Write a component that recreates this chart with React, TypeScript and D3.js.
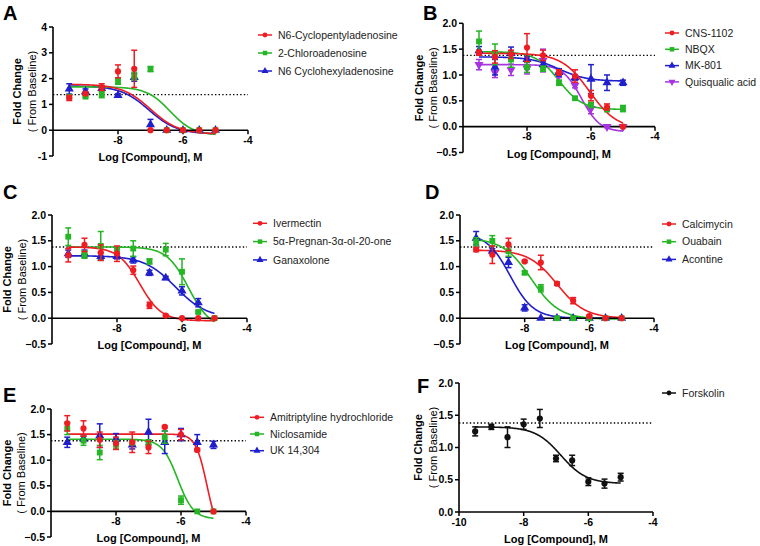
import React from 'react'
import * as d3 from 'd3'

// log molar concentrations used in every panel
const logDoses = [-9.5, -9, -8.5, -8, -7.5, -7, -6.5, -6, -5.5, -5]
const baseline = 1.38

// fits are [top, bottom, logIC50, hillSlope]

// A
const cpaMean = [1.25, 1.42, 1.67, 2.28, 2.38, 0, 0, 0, 0, 0]
const cpaSem = [0.1, 0.05, 0.13, 0.25, 0.72, 0, 0, 0, 0, 0]
const cpaFit = [1.78, -0.15, -7.0, 1.0]
const caMean = [1.3, 1.3, 1.38, 1.9, 2.1, 2.37, 0, 0, 0, 0]
const caSem = [0.05, 0.03, 0.12, 0.12, 0.15, 0.1, 0, 0, 0, 0]
const caFit = [1.68, -0.2, -6.4, 1.2]
const chaMean = [1.6, 1.5, 1.62, 1.35, 2.05, 0.22, 0, 0, 0, 0]
const chaSem = [0.2, 0.1, 0.08, 0.06, 0.15, 0.2, 0, 0, 0, 0]
const chaFit = [1.72, -0.15, -7.05, 1.0]

// B
const cnsMean = [1.43, 1.35, 1.4, 1.53, 1.38, 1.05, 0.98, 0.6, 0.38, 0.0]
const cnsSem = [0.05, 0.12, 0.08, 0.27, 0.1, 0.05, 0.12, 0.1, 0.06, 0.02]
const cnsFit = [1.42, -0.05, -6.05, 1.0]
const nbqxMean = [1.65, 1.4, 1.3, 1.15, 1.12, 0.85, 0.55, 0.42, 0.33, 0.35]
const nbqxSem = [0.2, 0.2, 0.15, 0.1, 0.05, 0.05, 0.03, 0.05, 0.03, 0.06]
const nbqxFit = [1.45, 0.33, -7.0, 1.2]
const mkMean = [1.47, 1.15, 1.42, 1.3, 1.2, 1.05, 0.95, 0.92, 0.85, 0.85]
const mkSem = [0.08, 0.15, 0.12, 0.05, 0.05, 0.07, 0.05, 0.28, 0.15, 0.05]
const mkFit = [1.35, 0.88, -7.0, 1.0]
const quisMean = [1.2, 1.05, 1.1, 1.13, 1.28, 1.0, 0.8, 0.35, 0.0, 0.0]
const quisSem = [0.1, 0.1, 0.11, 0.11, 0.22, 0.05, 0.05, 0.1, 0.02, 0.0]
const quisFit = [1.2, -0.1, -6.3, 1.5]

// C
const ivMean = [1.22, 1.42, 1.27, 1.25, 0.93, 0.25, 0.05, 0.0, 0.0, 0.0]
const ivSem = [0.13, 0.13, 0.15, 0.15, 0.08, 0.06, 0.02, 0.01, 0.01, 0.01]
const ivFit = [1.38, -0.05, -7.3, 1.3]
const pregMean = [1.58, 1.23, 1.4, 1.3, 1.35, 1.1, 1.33, 0.9, 0.12, 0.0]
const pregSem = [0.17, 0.07, 0.28, 0.05, 0.15, 0.05, 0.12, 0.25, 0.02, 0.02]
const pregFit = [1.38, -0.2, -5.8, 1.3]
const ganMean = [1.25, 1.25, 1.2, 1.2, 1.13, 0.88, 0.78, 0.53, 0.3, null]
const ganSem = [0.07, 0.07, 0.07, 0.05, 0.06, 0.05, 0.03, 0.08, 0.08, 0]
const ganFit = [1.21, 0.0, -6.2, 0.9]

// D
const calMean = [1.33, 1.23, 1.43, 1.1, 1.08, 0.67, 0.34, 0.04, 0.0, 0.0]
const calSem = [0.04, 0.17, 0.12, 0.02, 0.14, 0.03, 0.06, 0.02, 0.01, 0.01]
const calFit = [1.32, 0.0, -7.0, 1.0]
const ouaMean = [1.48, 1.5, 1.3, 0.88, 0.58, 0.0, 0.0, 0.0, 0.0, 0.0]
const ouaSem = [0.08, 0.1, 0.1, 0.03, 0.07, 0.01, 0.01, 0.01, 0.01, 0.01]
const ouaFit = [1.55, -0.02, -7.8, 1.0]
const acoMean = [1.55, 1.3, 1.08, 0.2, 0.0, 0.0, 0.0, 0.0, 0.0, 0.0]
const acoSem = [0.13, 0.05, 0.1, 0.06, 0.01, 0, 0, 0, 0, 0]
const acoFit = [1.65, 0.0, -8.45, 1.2]

// E
const amiMean = [1.72, 1.62, 1.4, 1.33, 1.35, 1.25, 1.65, 1.5, 1.2, 0.0]
const amiSem = [0.15, 0.15, 0.15, 0.12, 0.2, 0.12, 0.02, 0.1, 0.03, 0.01]
const amiFit = [1.51, -0.5, -5.2, 2.5]
const nicMean = [1.62, 1.38, 1.15, 1.3, 1.35, 1.35, 1.45, 0.22, 0.0, 0.0]
const nicSem = [0.12, 0.09, 0.14, 0.08, 0.05, 0.05, 0.12, 0.08, 0.01, 0.01]
const nicFit = [1.41, -0.15, -6.1, 1.8]
const ukMean = [1.35, 1.42, 1.48, 1.41, 1.3, 1.55, 1.35, 1.5, 1.35, 1.3]
const ukSem = [0.1, 0.05, 0.23, 0.11, 0.08, 0.25, 0.22, 0.12, 0.15, 0.07]

// F
const forMean = [1.25, 1.32, 1.16, 1.36, 1.45, 0.83, 0.8, 0.47, 0.44, 0.54]
const forSem = [0.07, 0.04, 0.16, 0.08, 0.14, 0.05, 0.08, 0.06, 0.07, 0.06]
const forFit = [1.32, 0.44, -6.85, 1.1]

const RED = '#ee1d23'
const GREEN = '#25b525'
const BLUE = '#1f1fcc'
const PURPLE = '#a634df'
const BLACK = '#111111'
const FONT = "'Liberation Sans', Arial, Helvetica, sans-serif"

type Shape = 'circle' | 'square' | 'up' | 'down'

interface ISeries {
    name: string,
    color: string,
    shape: Shape,
    mean: (number | null)[],
    sem: number[],
    fit: number[] | null
}

interface IPanel {
    letter: string,
    letterX: number,
    letterY: number,
    x0: number,
    x1: number,
    yDomain: [number, number],
    yRange: [number, number],
    yTicks: number[],
    yFmt: (v: number) => string,
    xTicks: number[],
    titleX: [number, number] | null,
    legendX: number,
    legendY: number,
    legendStep: number,
    series: ISeries[]
}

const hill = (x: number, f: number[]) => f[1] + (f[0] - f[1]) / (1 + Math.pow(10, (x - f[2]) * f[3]))

const symbolPath = (shape: Shape, size: number) => {
    const type = shape === 'circle' ? d3.symbolCircle : shape === 'square' ? d3.symbolSquare : d3.symbolTriangle
    return d3.symbol().type(type).size(size)() as string
}

const fmt1 = d3.format('.1f')
const fmtInt = (v: number) => String(v)

const panels: IPanel[] = [
    {
        letter: 'A', letterX: 3, letterY: 20, x0: 53, x1: 248,
        yDomain: [-1, 4], yRange: [156, 27], yTicks: [-1, 0, 1, 2, 3, 4], yFmt: fmtInt,
        xTicks: [-8, -6, -4], titleX: [17, 32],
        legendX: 258, legendY: 35, legendStep: 18,
        series: [
            { name: 'N6-Cyclopentyladenosine', color: RED, shape: 'circle', mean: cpaMean, sem: cpaSem, fit: cpaFit },
            { name: '2-Chloroadenosine', color: GREEN, shape: 'square', mean: caMean, sem: caSem, fit: caFit },
            { name: 'N6 Cyclohexyladenosine', color: BLUE, shape: 'up', mean: chaMean, sem: chaSem, fit: chaFit },
        ]
    },
    {
        letter: 'B', letterX: 423, letterY: 20, x0: 463, x1: 655,
        yDomain: [-0.5, 2], yRange: [152.5, 23.3], yTicks: [-0.5, 0, 0.5, 1, 1.5, 2], yFmt: fmt1,
        xTicks: [-8, -6, -4], titleX: [419, 433],
        legendX: 665, legendY: 33, legendStep: 16.3,
        series: [
            { name: 'CNS-1102', color: RED, shape: 'circle', mean: cnsMean, sem: cnsSem, fit: cnsFit },
            { name: 'NBQX', color: GREEN, shape: 'square', mean: nbqxMean, sem: nbqxSem, fit: nbqxFit },
            { name: 'MK-801', color: BLUE, shape: 'up', mean: mkMean, sem: mkSem, fit: mkFit },
            { name: 'Quisqualic acid', color: PURPLE, shape: 'down', mean: quisMean, sem: quisSem, fit: quisFit },
        ]
    },
    {
        letter: 'C', letterX: 3, letterY: 199, x0: 52, x1: 247,
        yDomain: [-0.5, 2], yRange: [344, 215], yTicks: [-0.5, 0, 0.5, 1, 1.5, 2], yFmt: fmt1,
        xTicks: [-8, -6, -4], titleX: [7, 22],
        legendX: 253, legendY: 223.3, legendStep: 18.3,
        series: [
            { name: 'Ivermectin', color: RED, shape: 'circle', mean: ivMean, sem: ivSem, fit: ivFit },
            { name: '5α-Pregnan-3α-ol-20-one', color: GREEN, shape: 'square', mean: pregMean, sem: pregSem, fit: pregFit },
            { name: 'Ganaxolone', color: BLUE, shape: 'up', mean: ganMean, sem: ganSem, fit: ganFit },
        ]
    },
    {
        letter: 'D', letterX: 425, letterY: 199, x0: 460, x1: 654,
        yDomain: [-0.5, 2], yRange: [344, 215], yTicks: [-0.5, 0, 0.5, 1, 1.5, 2], yFmt: fmt1,
        xTicks: [-8, -6, -4], titleX: null,
        legendX: 662, legendY: 224, legendStep: 17.7,
        series: [
            { name: 'Calcimycin', color: RED, shape: 'circle', mean: calMean, sem: calSem, fit: calFit },
            { name: 'Ouabain', color: GREEN, shape: 'square', mean: ouaMean, sem: ouaSem, fit: ouaFit },
            { name: 'Acontine', color: BLUE, shape: 'up', mean: acoMean, sem: acoSem, fit: acoFit },
        ]
    },
    {
        letter: 'E', letterX: 3, letterY: 402, x0: 51, x1: 246,
        yDomain: [-0.5, 2], yRange: [537, 409], yTicks: [-0.5, 0, 0.5, 1, 1.5, 2], yFmt: fmt1,
        xTicks: [-8, -6, -4], titleX: [7, 21],
        legendX: 250, legendY: 417.3, legendStep: 16.7,
        series: [
            { name: 'Amitriptyline hydrochloride', color: RED, shape: 'circle', mean: amiMean, sem: amiSem, fit: amiFit },
            { name: 'Niclosamide', color: GREEN, shape: 'square', mean: nicMean, sem: nicSem, fit: nicFit },
            { name: 'UK 14,304', color: BLUE, shape: 'up', mean: ukMean, sem: ukSem, fit: null },
        ]
    },
    {
        letter: 'F', letterX: 417, letterY: 393, x0: 459, x1: 653,
        yDomain: [0, 2], yRange: [512, 383], yTicks: [0, 0.5, 1, 1.5, 2], yFmt: fmt1,
        xTicks: [-10, -8, -6, -4], titleX: [418, 433],
        legendX: 662, legendY: 393, legendStep: 17,
        series: [
            { name: 'Forskolin', color: BLACK, shape: 'circle', mean: forMean, sem: forSem, fit: forFit },
        ]
    },
]

const markerSize: Record<Shape, number> = { circle: 30, square: 34, up: 36, down: 36 }

const Marker = ({ shape, color, cx, cy, scale = 1 }: { shape: Shape, color: string, cx: number, cy: number, scale?: number }) => (
    <path
        d={symbolPath(shape, markerSize[shape] * scale)}
        fill={color}
        transform={`translate(${cx},${cy})${shape === 'down' ? ' rotate(180)' : ''}`}
    />
)

const Panel = ({ p }: { p: IPanel }) => {
    const x = d3.scaleLinear().domain([-10, -4]).range([p.x0, p.x1])
    const y = d3.scaleLinear().domain(p.yDomain).range(p.yRange)
    const y0 = y(0)
    const curveX = d3.range(-9.5, -4.999, 0.02)
    const drawOrder = [...p.series].reverse()

    return (
        <g fontFamily={FONT}>
            <text x={p.letterX} y={p.letterY} fontSize={20} fontWeight="bold">{p.letter}</text>

            {/* baseline */}
            <line x1={x(-10)} x2={x(-4)} y1={y(baseline)} y2={y(baseline)}
                stroke="#000" strokeWidth={1.3} strokeDasharray="1.4,2.2" />

            {/* curves */}
            {drawOrder.map(s => s.fit && (
                <path key={s.name + 'c'} fill="none" stroke={s.color} strokeWidth={1.6}
                    d={d3.line<number>().x(d => x(d)).y(d => y(hill(d, s.fit as number[])))(curveX) as string} />
            ))}

            {/* axes */}
            <line x1={p.x0} x2={p.x0} y1={y(p.yDomain[0])} y2={y(p.yDomain[1])} stroke="#000" strokeWidth={1.6} />
            {p.yTicks.map(t => (
                <g key={'y' + t}>
                    <line x1={p.x0 - 4} x2={p.x0} y1={y(t)} y2={y(t)} stroke="#000" strokeWidth={1.5} />
                    <text x={p.x0 - 6} y={y(t)} dy="0.35em" textAnchor="end" fontSize={10.5} fontWeight="bold">{p.yFmt(t)}</text>
                </g>
            ))}
            <line x1={p.x0} x2={p.x1} y1={y0} y2={y0} stroke="#000" strokeWidth={1.6} />
            {p.xTicks.map(t => (
                <g key={'x' + t}>
                    <line x1={x(t)} x2={x(t)} y1={y0} y2={y0 + 4} stroke="#000" strokeWidth={1.5} />
                    <text x={x(t)} y={y0 + 10} dy="0.35em" textAnchor="middle" fontSize={10.5} fontWeight="bold">{t}</text>
                </g>
            ))}
            <text x={(p.x0 + p.x1) / 2} y={y0 + 27} dy="0.35em" textAnchor="middle" fontSize={11} fontWeight="bold">
                Log [Compound], M
            </text>
            {p.titleX && (
                <g>
                    <text transform={`translate(${p.titleX[0]},${(p.yRange[0] + p.yRange[1]) / 2}) rotate(-90)`}
                        dy="0.35em" textAnchor="middle" fontSize={11} fontWeight="bold">Fold Change</text>
                    <text transform={`translate(${p.titleX[1]},${(p.yRange[0] + p.yRange[1]) / 2}) rotate(-90)`}
                        dy="0.35em" textAnchor="middle" fontSize={11}>( From Baseline)</text>
                </g>
            )}

            {/* points with SEM bars */}
            {drawOrder.map(s => (
                <g key={s.name + 'p'}>
                    {s.mean.map((m, i) => {
                        if (m === null) return null
                        const cx = x(logDoses[i])
                        const e = s.sem[i]
                        return (
                            <g key={i}>
                                {e > 0.015 && (
                                    <g stroke={s.color} strokeWidth={1.5}>
                                        <line x1={cx} x2={cx} y1={y(m - e)} y2={y(m + e)} />
                                        <line x1={cx - 3} x2={cx + 3} y1={y(m - e)} y2={y(m - e)} />
                                        <line x1={cx - 3} x2={cx + 3} y1={y(m + e)} y2={y(m + e)} />
                                    </g>
                                )}
                                <Marker shape={s.shape} color={s.color} cx={cx} cy={y(m)} />
                            </g>
                        )
                    })}
                </g>
            ))}

            {/* legend */}
            {p.series.map((s, i) => {
                const ly = p.legendY + i * p.legendStep
                return (
                    <g key={s.name + 'l'}>
                        <line x1={p.legendX} x2={p.legendX + 14} y1={ly} y2={ly} stroke={s.color} strokeWidth={1.5} />
                        <Marker shape={s.shape} color={s.color} cx={p.legendX + 7} cy={ly} scale={0.6} />
                        <text x={p.legendX + 20} y={ly} dy="0.35em" fontSize={10.5} fill="#222">{s.name}</text>
                    </g>
                )
            })}
        </g>
    )
}

export default function App() {
    return (
        <svg width={760} height={546} viewBox="0 0 760 546"
            style={{ position: 'absolute', left: 0, top: 0, background: '#fff' }}>
            <rect width={760} height={546} fill="#fff" />
            {panels.map(p => <Panel key={p.letter} p={p} />)}
        </svg>
    )
}
